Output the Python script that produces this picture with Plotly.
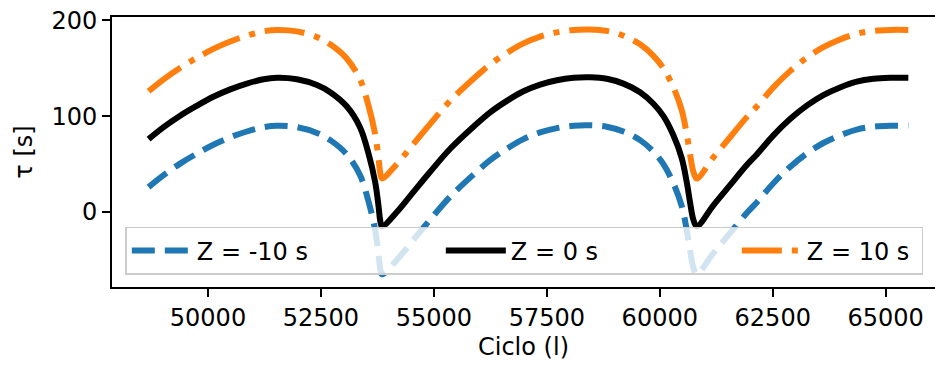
import plotly.graph_objects as go

# Cycle values (x)
ciclo = [48686, 49018, 49400, 49757, 50130, 50493, 50860, 51230, 51526, 51969,
         52411, 52706, 53075, 53369, 53553, 53701, 53775, 53812, 53850, 54181,
         54549, 54918, 55361, 55876, 56245, 56615, 56982, 57352, 57721, 58088,
         58458, 58827, 59195, 59564, 59859, 60080, 60301, 60487, 60597, 60670,
         60743, 60817, 61186, 61555, 61925, 62146, 62514, 62883, 63252, 63620,
         63989, 64358, 64726, 65095, 65501]

# tau [s] for Z = 0 s
tau_z0 = [76, 88.5, 101, 111, 120.5, 128, 134, 138.5, 140, 138.5,
          132.5, 125, 110, 88, 61, 31, 6, -9, -15, 0,
          21, 42, 66, 89, 104, 116, 126, 133, 137.5, 140,
          140.5, 139, 134, 125, 113, 100, 80, 56, 31, 10,
          -8, -15, 7, 28, 49, 60, 80, 97, 111, 122,
          130, 136, 139, 140, 140]

# tau [s] for Z = -10 s
tau_zm10 = [26, 38.5, 51, 61, 70.5, 78, 84, 88.5, 90, 88.5,
            82.5, 75, 60, 38, 11, -19, -44, -59, -65, -50,
            -29, -8, 16, 39, 54, 66, 76, 83, 87.5, 90,
            90.5, 89, 84, 75, 63, 50, 30, 6, -19, -40,
            -58, -65, -43, -22, -1, 10, 30, 47, 61, 72,
            80, 86, 89, 90, 90]

# tau [s] for Z = 10 s
tau_z10 = [126, 138.5, 151, 161, 170.5, 178, 184, 188.5, 190, 188.5,
           182.5, 175, 160, 138, 111, 81, 56, 41, 35, 50,
           71, 92, 116, 139, 154, 166, 176, 183, 187.5, 190,
           190.5, 189, 184, 175, 163, 150, 130, 106, 81, 60,
           42, 35, 57, 78, 99, 110, 130, 147, 161, 172,
           180, 186, 189, 190, 190]

labels = ["Z = -10 s", "Z = 0 s", "Z = 10 s"]
x_ticks = [50000, 52500, 55000, 57500, 60000, 62500, 65000]
y_ticks = [0, 100, 200]

FONT = "DejaVu Sans"

fig = go.Figure()
fig.add_trace(go.Scatter(x=ciclo, y=tau_zm10, mode="lines", name=labels[0],
                         legendwidth=239,
                         line=dict(color="#1f77b4", width=6, dash="23px,10px",
                                   shape="spline", smoothing=1.0)))
fig.add_trace(go.Scatter(x=ciclo, y=tau_z0, mode="lines", name=labels[1],
                         legendwidth=221,
                         line=dict(color="black", width=6, shape="spline", smoothing=1.0)))
fig.add_trace(go.Scatter(x=ciclo, y=tau_z10, mode="lines", name=labels[2],
                         legendwidth=110,
                         line=dict(color="#ff7f0e", width=6, dash="40px,10px,6px,10px",
                                   shape="spline", smoothing=1.0)))

axis_common = dict(showgrid=False, zeroline=False, showline=True, linecolor="black",
                   linewidth=1.6, ticks="outside", ticklen=8, tickwidth=1.6,
                   tickcolor="black", tickfont=dict(family=FONT, size=24, color="black"))

fig.update_layout(
    width=935, height=365,
    margin=dict(l=112, r=0, t=17, b=78),
    paper_bgcolor="white", plot_bgcolor="white",
    font=dict(family=FONT, size=24, color="black"),
    xaxis=dict(range=[47876, 66091], tickvals=x_ticks, tickformat="d", mirror=True,
               title=dict(text="Ciclo (l)", font=dict(family=FONT, size=24), standoff=8),
               **axis_common),
    yaxis=dict(range=[-78.3, 203.5], tickvals=y_ticks, tickformat="d",
               title=dict(text="τ [s]", font=dict(family=FONT, size=24), standoff=12),
               **axis_common),
    legend=dict(orientation="h", x=0.0162, xanchor="left", y=0.045, yanchor="bottom",
                bgcolor="rgba(255,255,255,0.8)", bordercolor="#cccccc", borderwidth=1.5,
                font=dict(family=FONT, size=24, color="black"),
                itemwidth=60),
    showlegend=True,
)

fig.write_html("out.html")
